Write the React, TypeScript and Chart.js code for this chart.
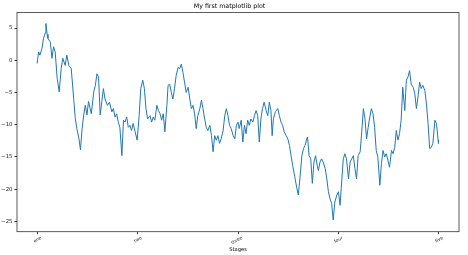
import React, { useEffect, useRef } from "react";
import { Chart, registerables } from "chart.js";

Chart.register(...registerables);

const chartTitle = "My first matplotlib plot";
const xAxisTitle = "Stages";

const stepIndex = [
  0, 4, 7, 12, 16, 20, 22, 25, 27, 33,
  37, 41, 45, 50, 55, 60, 64, 70, 74, 79,
  85, 91, 95, 99, 104, 108, 112, 116, 120, 124,
  128, 135, 141, 145, 149, 153, 157, 165, 169, 175,
  180, 186, 190, 194, 198, 202, 206, 211, 215, 219,
  223, 227, 231, 235, 239, 244, 249, 254, 258, 263,
  267, 271, 275, 281, 285, 289, 293, 298, 302, 306,
  310, 314, 318, 323, 326, 330, 334, 338, 342, 346,
  351, 355, 359, 363, 367, 371, 376, 380, 384, 388,
  392, 396, 400, 405, 409, 413, 417, 421, 425, 430,
  434, 438, 442, 446, 450, 454, 458, 463, 467, 471,
  475, 479, 483, 488, 492, 496, 500, 503, 508, 512,
  516, 520, 524, 528, 532, 537, 541, 545, 549, 553,
  557, 561, 565, 570, 574, 578, 582, 585, 588, 593,
  599, 603, 607, 611, 615, 620, 624, 628, 632, 636,
  641, 646, 650, 654, 659, 663, 667, 671, 673, 677,
  681, 685, 689, 693, 697, 700, 704, 708, 712, 717,
  721, 725, 729, 733, 737, 741, 746, 750, 754, 758,
  762, 766, 770, 775, 779, 783, 787, 791, 795, 799,
  804, 808, 812, 816, 820, 824, 828, 832, 836, 840,
  844, 848, 853, 857, 861, 865, 869, 873, 877, 882,
  886, 890, 894, 898, 902, 906, 910, 915, 919, 923,
  927, 931, 936, 940, 944, 948, 952, 956, 960, 965,
  969, 973, 977, 981, 985, 990, 994, 998, 999,
];

const walkValue = [
  -0.5, 1.3, 0.8, 1.8, 3.4, 4.2, 5.7, 4.0, 3.4, 2.8,
  0.3, 2.1, 1.3, -2.8, -4.9, -1.3, 0.3, -0.8, 0.8, -0.8,
  -1.3, -5.9, -9.0, -10.6, -12.1, -13.9, -10.6, -8.5, -7.0, -8.5,
  -6.4, -8.3, -4.9, -3.9, -2.1, -2.6, -8.5, -4.4, -6.0, -7.0,
  -6.5, -8.0, -7.5, -8.8, -8.3, -9.6, -10.4, -14.8, -9.3, -9.6,
  -8.8, -10.4, -10.1, -10.9, -9.8, -11.1, -12.4, -8.6, -4.4, -3.1,
  -4.4, -7.5, -9.1, -8.6, -9.6, -8.8, -9.3, -7.0, -7.8, -8.3,
  -9.3, -8.3, -11.1, -7.0, -3.9, -3.7, -5.0, -6.0, -4.4, -2.4,
  -1.1, -1.3, -0.6, -1.9, -3.4, -5.0, -4.2, -6.0, -7.5, -7.0,
  -8.3, -10.6, -8.6, -7.5, -6.2, -7.5, -9.1, -10.4, -10.9, -10.1,
  -11.7, -14.2, -11.7, -12.4, -11.7, -12.9, -12.2, -10.9, -8.6, -7.5,
  -8.6, -10.1, -10.6, -11.7, -12.2, -10.1, -9.6, -10.6, -9.3, -12.7,
  -10.1, -11.4, -9.3, -10.1, -9.1, -9.6, -8.6, -7.8, -8.6, -12.7,
  -9.1, -7.5, -6.5, -7.8, -8.6, -6.5, -7.8, -11.7, -9.1, -8.0,
  -7.5, -8.6, -9.6, -10.1, -11.1, -11.7, -12.2, -13.2, -14.8, -16.3,
  -18.0, -19.7, -20.9, -18.4, -14.8, -13.7, -13.2, -12.2, -11.9, -14.8,
  -15.3, -19.1, -15.8, -14.8, -16.3, -17.1, -15.8, -15.3, -15.8, -16.8,
  -18.4, -20.4, -21.5, -22.2, -24.8, -22.0, -20.9, -20.4, -22.5, -18.9,
  -15.3, -14.5, -15.3, -18.4, -15.8, -15.3, -14.8, -16.8, -18.4, -14.8,
  -14.2, -11.1, -7.5, -9.1, -12.2, -10.4, -8.8, -7.5, -8.3, -10.4,
  -14.0, -15.0, -19.4, -16.0, -14.0, -15.0, -14.5, -15.5, -16.6, -14.0,
  -14.5, -13.5, -10.9, -12.4, -11.4, -9.3, -4.2, -7.8, -3.1, -2.6,
  -1.6, -3.7, -4.2, -5.2, -7.5, -5.7, -3.4, -4.4, -3.9, -4.7,
  -6.8, -9.8, -13.7, -13.5, -12.9, -9.3, -9.8, -12.4, -12.9,
];

const xTickValues = [0, 250, 500, 750, 1000];
const xTickLabels = ["one", "two", "three", "four", "five"];
const yTickValues = [-25, -20, -15, -10, -5, 0, 5];

const FONT = "'DejaVu Sans', sans-serif";

const boxPlugin = {
  id: "axesBox",
  afterDraw(chart: any) {
    const { ctx, chartArea } = chart;
    ctx.save();
    ctx.strokeStyle = "#333";
    ctx.lineWidth = 0.8;
    ctx.strokeRect(
      chartArea.left,
      chartArea.top,
      chartArea.right - chartArea.left,
      chartArea.bottom - chartArea.top
    );
    ctx.restore();
  },
};

export default function App() {
  const canvasRef = useRef<HTMLCanvasElement | null>(null);

  useEffect(() => {
    document.body.style.margin = "0";
    const canvas = canvasRef.current;
    if (!canvas) return;
    const points = stepIndex.map((x, i) => ({ x, y: walkValue[i] }));
    const chart = new Chart(canvas, {
      type: "line",
      data: {
        datasets: [
          {
            data: points,
            borderColor: "#1f77b4",
            borderWidth: 1,
            pointRadius: 0,
            tension: 0,
            fill: false,
          },
        ],
      },
      options: {
        animation: false,
        responsive: false,
        devicePixelRatio: 1,
        layout: { padding: { left: 0, right: 9, top: 0, bottom: 0 } },
        plugins: {
          legend: { display: false },
          tooltip: { enabled: false },
          title: {
            display: true,
            text: chartTitle,
            color: "#000",
            font: { family: FONT, size: 6.3, weight: "normal" },
            padding: { top: 3, bottom: 2 },
          },
        },
        scales: {
          x: {
            type: "linear",
            min: -50,
            max: 1050,
            afterBuildTicks: (scale: any) => {
              scale.ticks = xTickValues.map((v) => ({ value: v }));
            },
            afterFit: (scale: any) => {
              scale.height = 23.3;
            },
            ticks: {
              minRotation: 30,
              maxRotation: 30,
              autoSkip: false,
              labelOffset: 4,
              padding: 1,
              color: "#222",
              font: { family: FONT, size: 4.5 },
              callback: (value: any) => {
                const i = xTickValues.indexOf(Number(value));
                return i >= 0 ? xTickLabels[i] : "";
              },
            },
            grid: {
              drawOnChartArea: false,
              drawTicks: true,
              tickLength: 2.5,
              color: "#333",
            },
            border: { display: false },
            title: {
              display: true,
              text: xAxisTitle,
              color: "#000",
              font: { family: FONT, size: 5.2 },
              padding: { top: 0, bottom: 2.5 },
            },
          },
          y: {
            type: "linear",
            min: -26.6,
            max: 7.4,
            afterBuildTicks: (scale: any) => {
              scale.ticks = yTickValues.map((v) => ({ value: v }));
            },
            afterFit: (scale: any) => {
              scale.width = 17;
            },
            ticks: {
              padding: 2,
              color: "#222",
              font: { family: FONT, size: 5.4 },
              callback: (value: any) => String(value).replace("-", "\u2212"),
            },
            grid: {
              drawOnChartArea: false,
              drawTicks: true,
              tickLength: 2.5,
              color: "#333",
            },
            border: { display: false },
          },
        },
      },
      plugins: [boxPlugin],
    });
    return () => chart.destroy();
  }, []);

  return (
    <div style={{ width: 468, height: 255 }}>
      <canvas ref={canvasRef} width={468} height={255} style={{ display: "block" }} />
    </div>
  );
}
